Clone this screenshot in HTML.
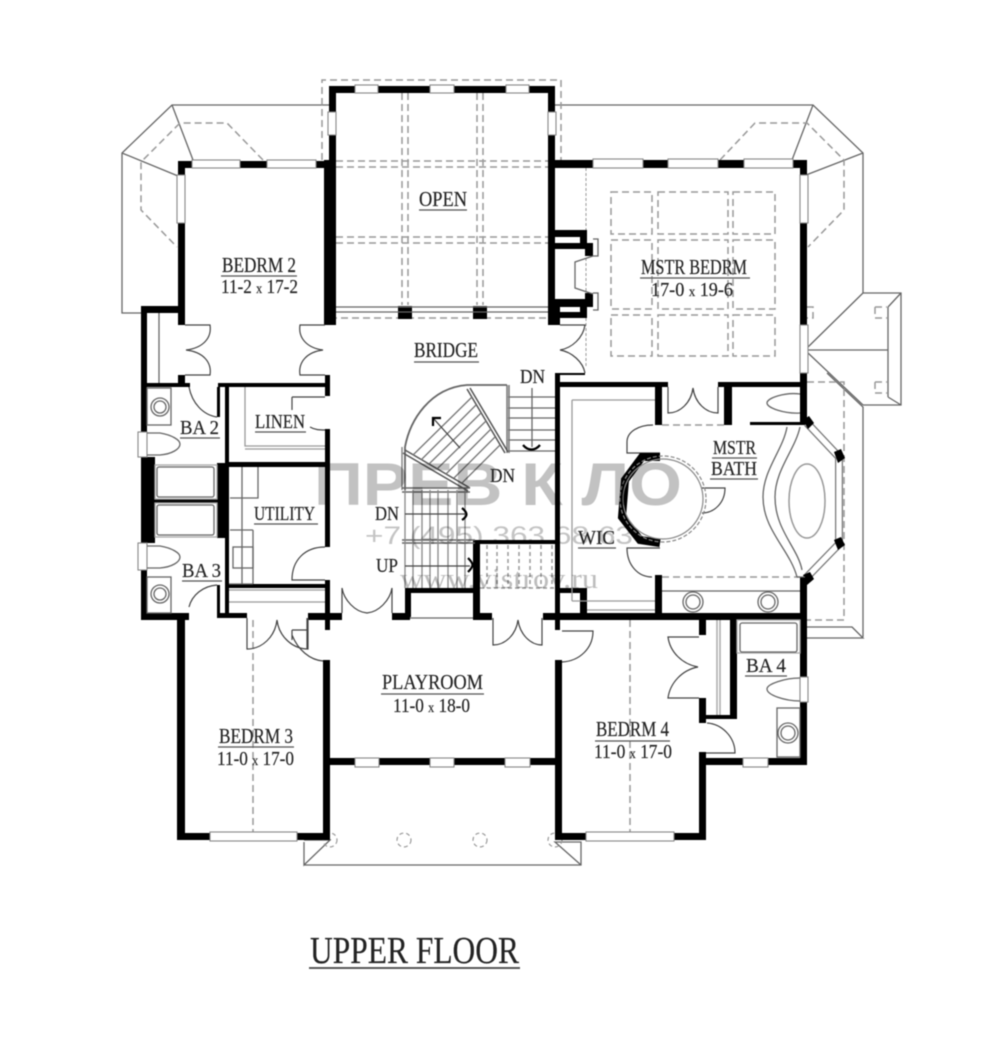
<!DOCTYPE html>
<html><head><meta charset="utf-8"><style>
html,body{margin:0;padding:0;background:#fff;width:1000px;height:1042px;overflow:hidden}
svg{display:block;filter:blur(.55px)}
.t{font-family:"Liberation Serif",serif;fill:#222;stroke:#333;stroke-width:.2;font-size:21.5px}
.s{font-size:20px}
.x{font-size:14px}
.w{fill:#000;stroke:none}
.win{fill:#fff;stroke:#888;stroke-width:1.1}
.l{fill:none;stroke:#666;stroke-width:1.3}
.d{fill:none;stroke:#999;stroke-width:1.5;stroke-dasharray:7 4}
.k{fill:none;stroke:#444;stroke-width:1.2}
.u{stroke:#555;stroke-width:1.3}
.wm{font-family:"Liberation Sans",sans-serif;fill:#c2c2c2;mix-blend-mode:multiply}
</style></head><body>
<svg width="1000" height="1042" viewBox="0 0 1000 1042" xmlns="http://www.w3.org/2000/svg">
<rect width="1000" height="1042" fill="#fff"/>

<g class="l">
<path d="M330 105H172L122 153V313H141M172 105L193 160M122 153L178 176"/>
<path d="M555 105H813L863 153V293M813 105L792 160M863 153L806 175"/>
<path d="M863 293H901V405H863M863 293L808 347M808 353L863 405M808 350H888M888 307V397M901 293L888 307M901 405L888 397"/>
<path d="M827 373L863 407V637M807 627H852L863 638H807M852 627L863 638"/>
<path d="M304 865H581V842H555L581 865M304 842V865L330 840H304"/>
</g>
<g class="d">
<path d="M322 160V80H561V160"/>
<path d="M263 160L227 123H180L141 162V210L177 247"/>
<path d="M720 160L755 123H807L844 160V210L808 247"/>
<path d="M807 382H844V620H807"/>
<path d="M875 307H887M875 318H887M875 307V318M875 382H887M875 393H887M875 382V393"/>
<path d="M807 307H813V318H807"/>
<path d="M402 93V305M408 93V305M477 93V305M483 93V305"/>
<path d="M336 161H548M336 167H548M336 237H548M336 243H548"/>
<path d="M330 318H548"/>
<path d="M611 192H652V234H611ZM658 192H728V234H658ZM733 192H775V234H733Z"/>
<path d="M611 240H652V309H611ZM658 240H728V309H658ZM733 240H775V309H733Z"/>
<path d="M611 315H652V356H611ZM658 315H728V356H658ZM733 315H775V356H733Z"/>
<path d="M253 620V833M630 620V833"/>
<path d="M662 425H725M662 577H800"/>
<path d="M487 545V588M497 545V588M508 545V588M519 545V588M530 545V588M541 545V588M552 545V588M480 588H555" style="stroke-dasharray:4 3"/>
<path d="M586 168V368" style="stroke-width:1;stroke-dasharray:3 2"/>
</g>
<g class="d" style="stroke-dasharray:4 3;stroke-width:1.2">
<circle cx="330" cy="840" r="7"/><circle cx="404" cy="840" r="7"/><circle cx="480" cy="840" r="7"/><circle cx="555" cy="840" r="7"/>
</g>

<g class="w">
<rect x="329" y="86" width="226" height="7"/>
<rect x="329" y="86" width="7" height="239"/>
<rect x="548" y="86" width="7" height="239"/>
<rect x="324" y="160" width="12" height="165"/>
<rect x="178" y="161" width="149" height="7"/>
<rect x="178" y="161" width="7" height="164"/>
<rect x="141" y="306" width="44" height="7"/>
<rect x="141" y="306" width="6" height="314"/>
<rect x="141" y="457" width="14" height="86"/>
<rect x="141" y="383" width="49" height="4"/>
<rect x="178" y="375" width="7" height="12"/>
<rect x="218" y="383" width="112" height="4"/>
<rect x="225" y="383" width="4" height="234"/>
<rect x="217" y="387" width="3" height="30"/>
<rect x="325" y="375" width="5" height="21"/>
<rect x="325" y="429" width="5" height="118"/>
<rect x="325" y="580" width="5" height="50"/>
<rect x="225" y="462" width="100" height="5"/>
<rect x="217" y="463" width="12" height="75"/>
<rect x="141" y="499" width="88" height="4"/>
<rect x="225" y="584" width="105" height="4"/>
<rect x="141" y="613" width="48" height="7"/>
<rect x="217" y="585" width="3" height="28"/>
<rect x="217" y="613" width="30" height="5"/>
<rect x="308" y="613" width="34" height="7"/>
<rect x="177" y="613" width="8" height="227"/>
<rect x="178" y="833" width="152" height="7"/>
<rect x="323" y="660" width="7" height="180"/>
<rect x="330" y="758" width="225" height="7"/>
<rect x="555" y="660" width="7" height="180"/>
<rect x="555" y="833" width="151" height="7"/>
<rect x="699" y="752" width="7" height="88"/>
<rect x="699" y="758" width="108" height="7"/>
<rect x="800" y="613" width="7" height="152"/>
<rect x="555" y="613" width="252" height="7"/>
<rect x="699" y="620" width="7" height="15"/>
<rect x="699" y="698" width="7" height="25"/>
<rect x="706" y="715" width="31" height="4"/>
<rect x="730" y="620" width="7" height="99"/>
<rect x="392" y="613" width="18" height="7"/>
<rect x="405" y="588" width="6" height="29"/>
<rect x="405" y="588" width="72" height="5"/>
<rect x="473" y="540" width="7" height="77"/>
<rect x="473" y="540" width="82" height="4"/>
<rect x="473" y="613" width="19" height="7"/>
<rect x="543" y="613" width="17" height="7"/>
<rect x="555" y="375" width="5" height="255"/>
<rect x="555" y="382" width="113" height="5"/>
<rect x="655" y="382" width="7" height="43"/>
<rect x="655" y="575" width="7" height="45"/>
<rect x="718" y="382" width="89" height="5"/>
<rect x="724" y="382" width="8" height="43"/>
<rect x="750" y="422" width="57" height="3"/>
<rect x="800" y="373" width="7" height="50"/>
<rect x="800" y="577" width="7" height="43"/>
<rect x="560" y="588" width="27" height="5"/>
<rect x="580" y="590" width="7" height="27"/>
<rect x="553" y="160" width="254" height="8"/>
<rect x="800" y="160" width="7" height="165"/>
<rect x="555" y="373" width="30" height="2"/>
<rect x="555" y="230" width="32" height="7"/>
<rect x="555" y="243" width="38" height="6"/>
<rect x="580" y="230" width="7" height="14"/>
<rect x="585" y="243" width="8" height="13"/>
<rect x="585" y="293" width="8" height="14"/>
<rect x="555" y="299" width="38" height="8"/>
<rect x="553" y="312" width="34" height="6"/>
<rect x="580" y="303" width="7" height="14"/>
<rect x="553" y="305" width="7" height="20"/>
<rect x="398" y="306" width="14" height="13"/>
<rect x="473" y="306" width="14" height="13"/>
</g>
<path class="l" d="M593 239H598V256H593M593 293H598V310H593M593 256L575 262V288L593 294"/>

<g class="win">
<rect x="355" y="85" width="23" height="8"/><rect x="430" y="85" width="24" height="8"/><rect x="506" y="85" width="23" height="8"/>
<rect x="328" y="112" width="8" height="23"/><rect x="548" y="112" width="8" height="23"/>
<rect x="192" y="160" width="48" height="8"/><rect x="267" y="160" width="49" height="8"/>
<rect x="177" y="175" width="8" height="48"/>
<rect x="593" y="159" width="50" height="9"/><rect x="668" y="159" width="50" height="9"/><rect x="744" y="159" width="49" height="9"/>
<rect x="800" y="175" width="8" height="48"/><rect x="800" y="325" width="8" height="48"/>
<rect x="138" y="432" width="9" height="25"/><rect x="138" y="543" width="9" height="27"/>
<rect x="210" y="832" width="87" height="9"/><rect x="586" y="832" width="88" height="9"/>
<rect x="355" y="758" width="24" height="9"/><rect x="430" y="758" width="24" height="9"/><rect x="505" y="758" width="25" height="9"/>
<rect x="743" y="758" width="25" height="9"/>
<rect x="800" y="677" width="8" height="25"/>
</g>
<path class="l" d="M336 307H548M336 312H548"/>
<path d="M807 423L839 457V544L807 577" fill="none" stroke="#777" stroke-width="8"/>
<path d="M807 423L839 457V544L807 577" fill="none" stroke="#fff" stroke-width="5.5"/>
<path class="w" d="M803 420L809 416L814 423L808 429ZM834 452L841 449L845 458L838 463ZM834 540L841 537L845 545L838 550ZM803 575L810 572L814 579L807 585Z"/>

<g class="k">
<path d="M185 325H210C212 338 203 348 186 350C203 352 212 362 210 375H185"/>
<path d="M325 325H300C298 338 307 348 323 350C307 352 298 362 300 375H325"/>
<path d="M189 387C192 403 203 415 217 417"/>
<path d="M189 607C192 595 203 586 217 585"/>
<path d="M292 397H325M292 397V410M310 427C315 430 320 430 325 430"/>
<path d="M325 547C305 547 292 560 292 580H325"/>
<path d="M247 618V649C262 649 275 637 277 620C279 637 293 649 308 649V618"/>
<path d="M292 630V640M292 635C298 650 310 660 323 661"/>
<path d="M292 630H308M307 618V649"/>
<path d="M342 613V588C344 600 355 612 367 613C379 612 390 600 392 588V613"/>
<path d="M493 618V645C505 645 516 635 518 620C520 635 531 645 542 645V618"/>
<path d="M562 631H593C593 648 580 661 562 662"/>
<path d="M560 325H585C583 338 572 348 560 350C572 352 583 362 585 373"/>
<path d="M668 387V413C680 413 691 403 693 388C695 403 706 413 718 413V387"/>
<path d="M699 637H668C670 652 682 664 698 667C682 670 670 683 668 698H699"/>
<path d="M707 723C722 724 735 737 735 753H706"/>
<path d="M653 425C638 425 627 432 627 442V453H660"/>
<path d="M660 548H627C627 565 638 577 652 577"/>
<path d="M702 488H725C725 503 714 513 702 513"/>
</g>
<g class="l">
<path d="M159 313V383"/>
<rect x="147" y="388" width="24" height="37"/><circle cx="160" cy="407" r="9"/><circle cx="160" cy="407" r="6"/>
<rect x="147" y="577" width="24" height="36"/><circle cx="160" cy="594" r="9"/><circle cx="160" cy="594" r="6"/>
<path d="M147 433H160C172 435 180 440 180 444C180 449 172 454 160 455H147"/>
<path d="M147 546H160C172 548 180 553 180 557C180 562 172 567 160 568H147"/>
<rect x="155" y="465" width="62" height="34" stroke="#aaa"/>
<rect x="157" y="467" width="57" height="30" rx="2"/>
<rect x="155" y="503" width="62" height="34" stroke="#aaa"/>
<rect x="157" y="505" width="57" height="30" rx="2"/>
<path d="M245 387V446H325M245 449H325" stroke="#999"/>
<path d="M242 467V584M253 530V584M230 498H258V467M230 530H253M229 584H253"/>
<rect x="233" y="547" width="20" height="21"/>
<path d="M229 590H325M229 602H325" stroke="#999"/>
<path d="M410 618H473"/>
<path d="M572 400H655M572 400V601M572 601H655M587 610H655" stroke="#999"/>
<path d="M662 591H800"/>
<circle cx="693" cy="602" r="10"/><circle cx="693" cy="602" r="7"/>
<circle cx="768" cy="602" r="10"/><circle cx="768" cy="602" r="7"/>
<path d="M787 427C783 450 763 470 763 497C763 530 790 550 797 577H805"/>
<path d="M800 427C795 450 775 470 775 497C775 530 798 548 802 570"/>
<ellipse cx="807" cy="501" rx="18" ry="37" stroke="#999" stroke-width="1.5"/>
<path d="M800 394C785 392 767 398 767 403C767 408 785 414 800 413"/>
<rect x="737" y="620" width="63" height="33" stroke="#aaa"/>
<rect x="740" y="623" width="57" height="29" rx="2"/>
<path d="M800 678C785 678 767 684 767 689C767 695 785 701 800 701"/>
<rect x="777" y="708" width="23" height="49"/><circle cx="788" cy="733" r="10"/><circle cx="788" cy="733" r="7"/>
<path d="M717 620V715M720 620V715" stroke="#aaa" stroke-width="1.5"/>
</g>
<path d="M660 457H642L625 480L622 517L640 540L660 543" fill="none" stroke="#000" stroke-width="8"/>
<circle cx="663" cy="499" r="40" fill="none" stroke="#888" stroke-width="1.2"/>
<circle cx="663" cy="499" r="43" fill="none" stroke="#888" stroke-width="1.2" stroke-dasharray="4 2"/>

<g class="l">
<path d="M508 397H555M508 408H555M508 418H555M508 430H555M508 440H555M508 451H555"/>
<path d="M532 388V447"/>
<path d="M507 385V453M509 385V453" stroke="#777" stroke-width="1.5"/>
<path d="M507 385H467C430 388 410 420 405 447V490" stroke-width="1.8"/>
<path d="M402 447V490" stroke="#777"/>
<path d="M405 450L470 488M403 453L468 491" stroke="#555" stroke-width="1.5"/>
<path d="M467 389L505 453M470 388L508 452" stroke="#555" stroke-width="1.5"/>
<path d="M413 455L472 397M421 460L476 405M429 464L481 413M437 469L486 421M446 474L491 429M454 478L495 437M462 483L500 445" stroke="#777"/>
<path d="M402 488H470M402 492H470M402 540H475M402 543H475" stroke="#666" stroke-width="1.4"/>
<path d="M405 490V588M413 490V588M422 490V588M430 490V588M438 490V588M448 490V588M457 490V588M465 490V588" stroke="#888"/>
<path d="M405 514H465M405 566H470M460 448L433 418" stroke="#444"/>
</g>
<g fill="none" stroke="#000" stroke-width="2.2">
<path d="M523 445C528 451 535 451 540 445"/>
<path d="M433 426V418H441"/>
<path d="M462 508C468 513 468 516 462 520"/>
<path d="M468 558C474 564 474 566 468 572"/>
</g>

<text class="wm" x="314" y="505" font-size="60" font-weight="bold" textLength="368" lengthAdjust="spacingAndGlyphs">ПРЕВ К ЛО</text>
<text x="365" y="544" font-family="Liberation Sans,sans-serif" font-size="25" fill="#c4c4c4" style="mix-blend-mode:multiply" textLength="268" lengthAdjust="spacingAndGlyphs">+7 (495) 363 68 63</text>
<text x="400" y="588" font-family="Liberation Serif,serif" font-size="28" fill="#bdbdbd" style="mix-blend-mode:multiply" textLength="198" lengthAdjust="spacingAndGlyphs">www.vistrov.ru</text>

<text class="t" x="222" y="272" textLength="74" lengthAdjust="spacingAndGlyphs">BEDRM 2</text><line class="u" x1="221" y1="276" x2="297" y2="276"/>
<text class="t s" x="221" y="293" textLength="77" lengthAdjust="spacingAndGlyphs">11-2 <tspan class="x">x</tspan> 17-2</text>
<text class="t" x="419" y="206" textLength="48" lengthAdjust="spacingAndGlyphs">OPEN</text><line class="u" x1="419" y1="210" x2="467" y2="210"/>
<text class="t" x="414" y="357" textLength="64" lengthAdjust="spacingAndGlyphs">BRIDGE</text><line class="u" x1="414" y1="362" x2="479" y2="362"/>
<text class="t s" x="520" y="383" textLength="25" lengthAdjust="spacingAndGlyphs">DN</text>
<text class="t" x="641" y="274" textLength="106" lengthAdjust="spacingAndGlyphs">MSTR BEDRM</text><line class="u" x1="640" y1="278" x2="750" y2="278"/>
<text class="t s" x="651" y="296" textLength="82" lengthAdjust="spacingAndGlyphs">17-0 <tspan class="x">x</tspan> 19-6</text>
<text class="t s" x="180" y="434" textLength="39" lengthAdjust="spacingAndGlyphs">BA 2</text><line class="u" x1="180" y1="438" x2="220" y2="438"/>
<text class="t s" x="255" y="428" textLength="50" lengthAdjust="spacingAndGlyphs">LINEN</text><line class="u" x1="255" y1="432" x2="306" y2="432"/>
<text class="t s" x="254" y="520" textLength="61" lengthAdjust="spacingAndGlyphs">UTILITY</text><line class="u" x1="254" y1="524" x2="318" y2="524"/>
<text class="t s" x="182" y="577" textLength="39" lengthAdjust="spacingAndGlyphs">BA 3</text><line class="u" x1="182" y1="581" x2="222" y2="581"/>
<text class="t s" x="375" y="520" textLength="24" lengthAdjust="spacingAndGlyphs">DN</text>
<text class="t s" x="376" y="572" textLength="22" lengthAdjust="spacingAndGlyphs">UP</text>
<text class="t s" x="490" y="482" textLength="25" lengthAdjust="spacingAndGlyphs">DN</text>
<text class="t s" x="578" y="544" textLength="37" lengthAdjust="spacingAndGlyphs">WIC</text><line class="u" x1="578" y1="548" x2="616" y2="548"/>
<text class="t s" x="713" y="454" textLength="43" lengthAdjust="spacingAndGlyphs">MSTR</text><line class="u" x1="712" y1="458" x2="757" y2="458"/>
<text class="t s" x="711" y="475" textLength="46" lengthAdjust="spacingAndGlyphs">BATH</text><line class="u" x1="710" y1="479" x2="758" y2="479"/>
<text class="t" x="382" y="689" textLength="101" lengthAdjust="spacingAndGlyphs">PLAYROOM</text><line class="u" x1="381" y1="694" x2="484" y2="694"/>
<text class="t s" x="393" y="712" textLength="77" lengthAdjust="spacingAndGlyphs">11-0 <tspan class="x">x</tspan> 18-0</text>
<text class="t" x="219" y="743" textLength="74" lengthAdjust="spacingAndGlyphs">BEDRM 3</text><line class="u" x1="218" y1="747" x2="294" y2="747"/>
<text class="t s" x="217" y="765" textLength="77" lengthAdjust="spacingAndGlyphs">11-0 <tspan class="x">x</tspan> 17-0</text>
<text class="t" x="596" y="736" textLength="73" lengthAdjust="spacingAndGlyphs">BEDRM 4</text><line class="u" x1="595" y1="741" x2="670" y2="741"/>
<text class="t s" x="594" y="758" textLength="78" lengthAdjust="spacingAndGlyphs">11-0 <tspan class="x">x</tspan> 17-0</text>
<text class="t s" x="746" y="672" textLength="40" lengthAdjust="spacingAndGlyphs">BA 4</text><line class="u" x1="745" y1="676" x2="787" y2="676"/>
<text class="t" x="310" y="963" style="font-size:38px" textLength="209" lengthAdjust="spacingAndGlyphs">UPPER FLOOR</text>
<line x1="309" y1="968" x2="520" y2="968" stroke="#444" stroke-width="1.8"/>
</svg>
</body></html>
